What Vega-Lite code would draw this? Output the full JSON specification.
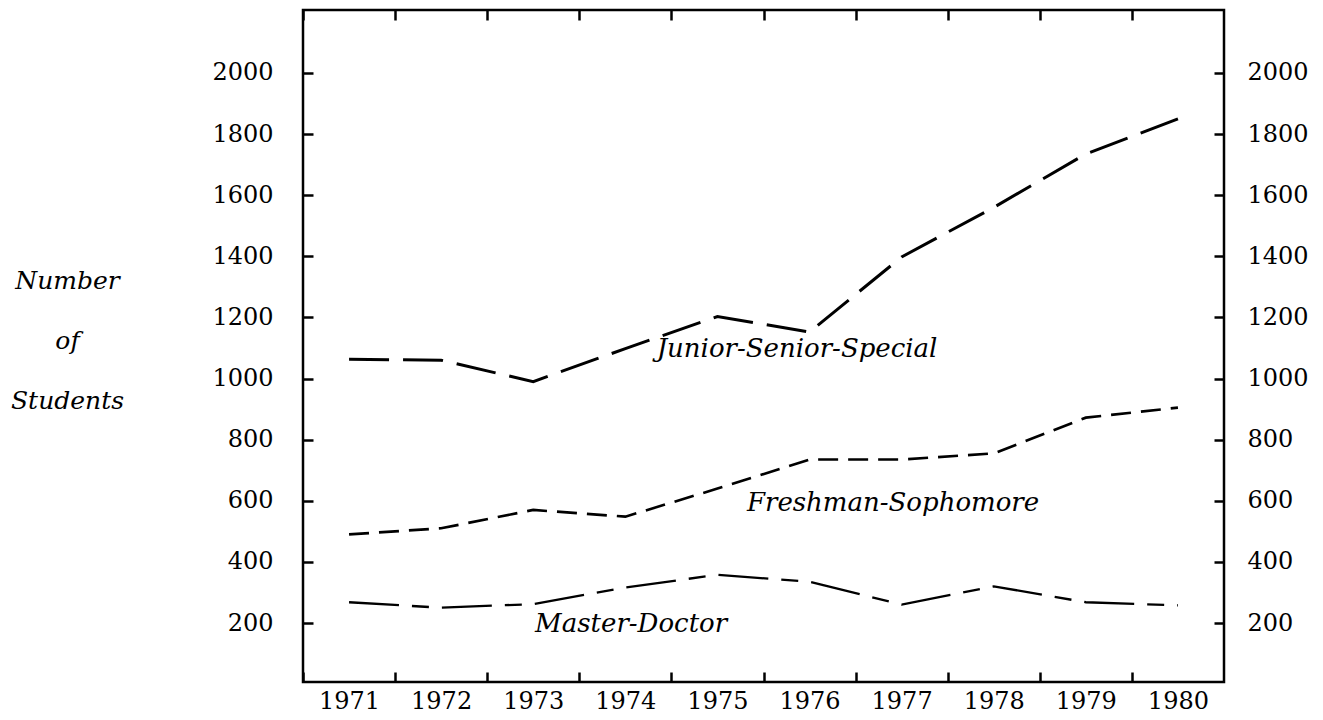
{
  "$schema": "https://vega.github.io/schema/vega-lite/v6.json",
  "width": 921,
  "height": 672,
  "autosize": {"type": "none"},
  "padding": {"left": 303, "top": 10, "right": 99, "bottom": 38},
  "background": "white",
  "config": {
    "view": {"stroke": "black", "strokeWidth": 2.5},
    "axis": {
      "domain": false,
      "grid": false,
      "tickColor": "black",
      "tickWidth": 2.5,
      "tickSize": -10,
      "labelFont": "DejaVu Serif",
      "labelFontSize": 24,
      "labelColor": "black",
      "titleColor": "black"
    }
  },
  "datasets": {
    "series": [
      {"year": 1971, "value": 1063, "group": "Junior-Senior-Special"},
      {"year": 1972, "value": 1060, "group": "Junior-Senior-Special"},
      {"year": 1973, "value": 990, "group": "Junior-Senior-Special"},
      {"year": 1974, "value": 1098, "group": "Junior-Senior-Special"},
      {"year": 1975, "value": 1203, "group": "Junior-Senior-Special"},
      {"year": 1976, "value": 1152, "group": "Junior-Senior-Special"},
      {"year": 1977, "value": 1398, "group": "Junior-Senior-Special"},
      {"year": 1978, "value": 1560, "group": "Junior-Senior-Special"},
      {"year": 1979, "value": 1735, "group": "Junior-Senior-Special"},
      {"year": 1980, "value": 1850, "group": "Junior-Senior-Special"},
      {"year": 1971, "value": 490, "group": "Freshman-Sophomore"},
      {"year": 1972, "value": 510, "group": "Freshman-Sophomore"},
      {"year": 1973, "value": 570, "group": "Freshman-Sophomore"},
      {"year": 1974, "value": 548, "group": "Freshman-Sophomore"},
      {"year": 1975, "value": 640, "group": "Freshman-Sophomore"},
      {"year": 1976, "value": 735, "group": "Freshman-Sophomore"},
      {"year": 1977, "value": 735, "group": "Freshman-Sophomore"},
      {"year": 1978, "value": 755, "group": "Freshman-Sophomore"},
      {"year": 1979, "value": 872, "group": "Freshman-Sophomore"},
      {"year": 1980, "value": 905, "group": "Freshman-Sophomore"},
      {"year": 1971, "value": 268, "group": "Master-Doctor"},
      {"year": 1972, "value": 250, "group": "Master-Doctor"},
      {"year": 1973, "value": 262, "group": "Master-Doctor"},
      {"year": 1974, "value": 316, "group": "Master-Doctor"},
      {"year": 1975, "value": 358, "group": "Master-Doctor"},
      {"year": 1976, "value": 335, "group": "Master-Doctor"},
      {"year": 1977, "value": 260, "group": "Master-Doctor"},
      {"year": 1978, "value": 320, "group": "Master-Doctor"},
      {"year": 1979, "value": 268, "group": "Master-Doctor"},
      {"year": 1980, "value": 258, "group": "Master-Doctor"}
    ],
    "labels": [
      {"label": "Junior-Senior-Special", "x": 1974.34, "y": 1072},
      {"label": "Freshman-Sophomore", "x": 1975.32, "y": 565},
      {"label": "Master-Doctor", "x": 1973.02, "y": 169}
    ]
  },
  "layer": [
    {
      "data": {"name": "series"},
      "mark": {"type": "line", "color": "black", "strokeCap": "butt"},
      "encoding": {
        "x": {
          "field": "year",
          "type": "quantitative",
          "scale": {"domain": [1970.5, 1980.5], "nice": false, "zero": false},
          "axis": {
            "orient": "bottom",
            "title": null,
            "values": [1970.5, 1971.5, 1972.5, 1973.5, 1974.5, 1975.5, 1976.5, 1977.5, 1978.5, 1979.5],
            "labelExpr": "format(datum.value + 0.5, 'd')",
            "labelOffset": 46,
            "labelPadding": 17,
            "labelFlush": false,
            "labelOverlap": false
          }
        },
        "y": {
          "field": "value",
          "type": "quantitative",
          "scale": {"domain": [7, 2206], "nice": false, "zero": false},
          "axis": {
            "orient": "left",
            "values": [200, 400, 600, 800, 1000, 1200, 1400, 1600, 1800, 2000],
            "format": "d",
            "labelPadding": 40,
            "title": ["Number", "of", "Students"],
            "titleAngle": 0,
            "titleFont": "DejaVu Serif",
            "titleFontStyle": "italic",
            "titleFontWeight": "normal",
            "titleFontSize": 25,
            "titleAlign": "center",
            "titleBaseline": "alphabetic",
            "titleLineHeight": 60,
            "titleX": -236,
            "titleY": 278
          }
        },
        "detail": {"field": "group"},
        "strokeDash": {
          "field": "group",
          "type": "nominal",
          "scale": {
            "domain": ["Junior-Senior-Special", "Freshman-Sophomore", "Master-Doctor"],
            "range": [[40, 14], [20, 10], [50, 13, 17, 13]]
          },
          "legend": null
        },
        "strokeWidth": {
          "field": "group",
          "type": "nominal",
          "scale": {
            "domain": ["Junior-Senior-Special", "Freshman-Sophomore", "Master-Doctor"],
            "range": [3, 2.3, 3.2]
          },
          "legend": null
        }
      }
    },
    {
      "data": {"name": "labels"},
      "mark": {
        "type": "text",
        "font": "DejaVu Serif",
        "fontStyle": "italic",
        "fontSize": 26,
        "align": "left",
        "baseline": "alphabetic",
        "color": "black"
      },
      "encoding": {
        "x": {
          "field": "x",
          "type": "quantitative",
          "scale": {"domain": [1970.5, 1980.5], "nice": false, "zero": false},
          "axis": {
            "orient": "top",
            "title": null,
            "values": [1970.5, 1971.5, 1972.5, 1973.5, 1974.5, 1975.5, 1976.5, 1977.5, 1978.5, 1979.5],
            "labels": false
          }
        },
        "y": {
          "field": "y",
          "type": "quantitative",
          "scale": {"domain": [7, 2206], "nice": false, "zero": false},
          "axis": {
            "orient": "right",
            "title": null,
            "values": [200, 400, 600, 800, 1000, 1200, 1400, 1600, 1800, 2000],
            "format": "d",
            "labelPadding": 33
          }
        },
        "text": {"field": "label"}
      }
    }
  ],
  "resolve": {"axis": {"x": "independent", "y": "independent"}}
}
